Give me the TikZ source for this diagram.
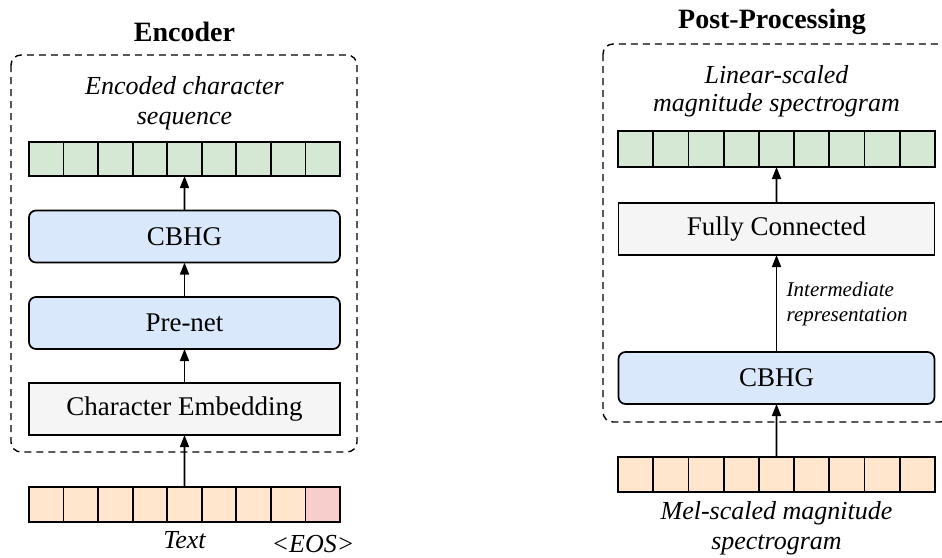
\documentclass[tikz,border=0pt]{standalone}
\usepackage{fontspec}
\setmainfont{Liberation Serif}
\usetikzlibrary{arrows.meta}

\definecolor{seqgreen}{HTML}{D5E8D4}
\definecolor{seqorange}{HTML}{FFE6CC}
\definecolor{eospink}{HTML}{F8CECC}
\definecolor{blockblue}{HTML}{DAE8FC}
\definecolor{blockgray}{HTML}{F5F5F5}

\tikzset{
  block/.style={draw, line width=1.7pt, inner sep=0pt, outer sep=0pt,
    minimum height=52pt, font=\fontsize{27}{30}\selectfont},
  rblock/.style={block, rounded corners=7pt, fill=blockblue},
  pblock/.style={block, fill=blockgray},
  cell/.style={draw, line width=1.7pt, inner sep=0pt, outer sep=0pt},
  flow/.style={-{Triangle[length=12pt,width=9pt]}, line width=1.7pt},
  group/.style={draw, line width=1.4pt, rounded corners=10pt,
    dash pattern=on 7pt off 5pt},
  title/.style={font=\fontsize{28}{30}\selectfont\bfseries},
  caption/.style={font=\fontsize{26}{30}\selectfont\itshape, align=center},
  smallcap/.style={font=\fontsize{21}{25}\selectfont\itshape, align=left}
}

\begin{document}
\begin{tikzpicture}[x=1pt, y=-1pt]
\clip (0,0) rectangle (942,557);

% ---------------- Encoder ----------------
\node[title] (enctitle) at (184.5,32) {Encoder};
\draw[group] (11,55) rectangle (357,452);
\node[caption] (encoutlbl) at (184.5,103) {Encoded character\\sequence};

\foreach \i in {1,...,9}
  \node[cell, fill=seqgreen, minimum width=34.56pt, minimum height=34pt]
    (enc\i) at ({29+(\i-0.5)*34.556},159) {};

\node[rblock, minimum width=311pt] (ecbhg)  at (184.5,236.5) {CBHG};
\node[rblock, minimum width=311pt] (prenet) at (184.5,323) {Pre-net};
\node[pblock, minimum width=311pt] (embed)  at (184.5,409) {Character Embedding};

\foreach \i in {1,...,8}
  \node[cell, fill=seqorange, minimum width=34.56pt, minimum height=35pt]
    (txt\i) at ({29+(\i-0.5)*34.556},504.5) {};
\node[cell, fill=eospink, minimum width=34.56pt, minimum height=35pt]
  (txt9) at ({29+8.5*34.556},504.5) {};

\node[caption] (textlbl) at (184.5,540) {Text};
\node[caption] (eoslbl) at (313,544) {<EOS>};

\draw[flow] (txt5.north) -- (embed.south);
\draw[flow] (embed.north) -- (prenet.south);
\draw[flow] (prenet.north) -- (ecbhg.south);
\draw[flow] (ecbhg.north) -- (enc5.south);

% ---------------- Post-Processing ----------------
\node[title] (posttitle) at (772,22) {Post-Processing};
\draw[group] (603,44) rectangle (950,422);
\node[caption, font=\fontsize{26}{28}\selectfont\itshape] (linlbl) at (776.5,91)
  {Linear-scaled\\magnitude spectrogram};

\foreach \i in {1,...,9}
  \node[cell, fill=seqgreen, minimum width=35.22pt, minimum height=36pt]
    (lin\i) at ({618+(\i-0.5)*35.222},149) {};

\node[pblock, minimum width=316pt] (fc)    at (776.5,229) {Fully Connected};
\node[rblock, minimum width=316pt] (pcbhg) at (776.5,378) {CBHG};

\foreach \i in {1,...,9}
  \node[cell, fill=seqorange, minimum width=35.22pt, minimum height=35pt]
    (mel\i) at ({618+(\i-0.5)*35.222},474.5) {};

\node[caption] (mellbl) at (776.5,528) {Mel-scaled magnitude\\spectrogram};

\draw[flow] (mel5.north) -- (pcbhg.south);
\draw[flow] (pcbhg.north) -- node[smallcap, anchor=west, xshift=6pt] (interlbl)
  {Intermediate\\representation} (fc.south);
\draw[flow] (fc.north) -- (lin5.south);
\end{tikzpicture}
\end{document}
